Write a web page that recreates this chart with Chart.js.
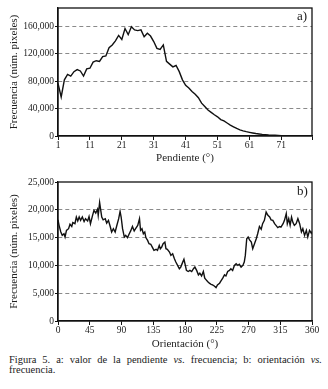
<!DOCTYPE html>
<html>
<head>
<meta charset="utf-8">
<script src="https://cdn.jsdelivr.net/npm/chart.js@4"></script>
<style>
    body { margin: 0; background: #fff; width: 328px; height: 389px; position: relative; overflow: hidden; font-family: 'Liberation Serif', serif; color: #1a1a1a; }
    .box { position: absolute; left: 0; width: 328px; }
    .tag { position: absolute; font-size: 13px; }
    #caption { position: absolute; left: 9px; top: 355px; width: 313px; font-size: 10.5px; line-height: 10px; text-align: justify; }
</style>
</head>
<body>
<div class="box" style="top:0;height:165px"><canvas id="slopeChart"></canvas></div>
<div class="box" style="top:170px;height:181px"><canvas id="aspectChart"></canvas></div>
<div class="tag" style="left:297px;top:8px">a)</div>
<div class="tag" style="left:297px;top:183px">b)</div>
<div id="caption">Figura 5. a: valor de la pendiente <i>vs.</i> frecuencia; b: orientación <i>vs.</i> frecuencia.</div>
<script>
// Pendiente (grados) vs. frecuencia
const slopeDegrees = [1,2,3,4,5,6,7,8,9,10,11,12,13,14,15,16,17,18,19,20,21,22,23,24,25,26,27,28,29,30,
    31,32,33,34,35,36,37,38,39,40,41,42,43,44,45,46,47,48,49,50,51,52,53,54,55,56,57,58,59,60,
    61,62,63,64,65,66,67,68,69,70,71,72,73,74,75,76,77,78,79,80];
const slopeFreq = [77000,57000,82000,90000,87500,94000,97000,95000,87500,98000,
    99000,108000,110000,109000,116000,117000,129000,133000,139000,147000,
    141000,157000,148000,159500,155000,154000,155000,145000,150000,146000,
    138000,128000,126500,133000,109000,105000,101000,103000,94000,82000,
    74000,70000,65000,61000,56000,48000,43000,38000,34500,31000,
    28000,24000,22000,19000,16000,13500,11000,9000,7500,6300,
    5300,4400,3600,3000,2400,2000,1500,1200,1000,800,
    600,500,400,300,250,200,150,100,100,50];
const slopeTicksX = [1,11,21,31,41,51,61,71];
const slopeTicksY = [0,40000,80000,120000,160000];

// Orientación (grados) vs. frecuencia
const aspectDegrees = [0,1.5,4,6,8.5,10,12,15,17,19.5,
    21,24,26,28,30,32,34.5,37,39,42,
    44,46,49,51,53.5,56,57,59,62,64,
    67,69,71.5,74,76,78.5,81,83,86,88,
    89.5,91.5,94,96,98.5,101,103,105.5,108,110,
    113,115.5,117,119,121,123,124.5,127,129,131.5,
    134,136,139,141,143.5,145,147,149,151.5,153,
    155,158,160,162.5,165,167,169.5,172,174,176.5,
    178.5,180.5,182,184.5,187,189.5,192,194,196.5,199,
    201,203.5,206,208,210,212,214.5,217,219,221.5,
    224,226,229,231,233.5,236,238,240.5,243,245,
    247.5,250,252.5,255,257,259.5,262,264,265.5,267.5,
    269.5,271.5,274,276,278.5,281,283,285.5,288,290,
    292.5,295,297.5,300,302,304.5,307,309,311.5,314,
    316,319,321,323.5,325,327,329,331,333,335,
    337.5,340,342.5,345,347,349.5,352,354,356.5,359,
    360];
const aspectFreq = [18200,17200,16000,15400,15700,15100,16300,16600,17400,17000,
    17700,17500,18700,18000,18700,18100,18700,17900,18400,18000,
    18800,17500,19000,19900,19400,20100,19000,21300,18700,18200,
    18400,17600,18100,17000,16000,16600,16000,17000,18400,19700,
    18700,16600,15100,15400,15000,15700,16200,17000,16200,16600,
    17200,18400,16300,16600,15700,16000,15000,14500,13900,13800,
    13200,12700,12900,12700,13600,13000,13300,13900,14200,13000,
    12900,12400,11800,12100,11200,10600,10000,9400,9700,10500,
    11100,10000,9100,8900,9100,8900,9400,9700,9100,8300,
    8600,8100,8900,7700,7400,7100,6800,6600,6500,6300,
    6000,6500,6800,7200,7700,8300,8100,8900,9100,9400,
    9100,10000,10300,10000,10200,9700,10000,10600,11800,14800,
    15100,14600,14200,13000,13900,14800,15700,17000,16500,17500,
    18100,19600,19000,18700,18200,18100,17500,17200,16800,17000,
    16900,17500,18100,19300,17500,18400,17200,18700,17700,17200,
    17500,18400,17500,16000,16600,15400,16300,15100,16300,15800,
    16100];
const aspectTicksX = [0,45,90,135,180,225,270,315,360];
const aspectTicksY = [0,5000,10000,15000,20000,25000];

const FONT = 'Liberation Serif';
const INK = '#111';

const frame = {
    id: 'frame',
    afterDatasetsDraw(chart) {
        const { ctx, chartArea: a } = chart;
        ctx.save();
        ctx.strokeStyle = INK;
        ctx.lineWidth = 1.3;
        ctx.strokeRect(a.left, a.top, a.right - a.left, a.bottom - a.top);
        ctx.restore();
    }
};

function makeChart(id, xs, ys, opts) {
    const points = xs.map((x, i) => ({ x: x, y: ys[i] }));
    return new Chart(document.getElementById(id), {
        type: 'line',
        data: {
            datasets: [{
                data: points,
                borderColor: INK,
                borderWidth: 1.4,
                pointRadius: 0,
                tension: 0,
                fill: false
            }]
        },
        options: {
            responsive: true,
            maintainAspectRatio: false,
            animation: false,
            layout: { padding: { top: opts.padTop, right: 16, left: 0, bottom: 0 } },
            plugins: { legend: { display: false }, tooltip: { enabled: false } },
            scales: {
                x: {
                    type: 'linear',
                    min: opts.xMin,
                    max: opts.xMax,
                    afterBuildTicks: s => { s.ticks = opts.xTicks.map(v => ({ value: v })); },
                    afterFit: s => { s.height = opts.xHeight; },
                    grid: { drawOnChartArea: false, drawTicks: true, tickLength: 4, tickColor: INK, lineWidth: 1 },
                    border: { color: INK, width: 1.3 },
                    ticks: {
                        padding: 0,
                        maxRotation: 0,
                        autoSkip: false,
                        color: '#222',
                        font: { family: FONT, size: 9.5 },
                        callback: v => (v === opts.xMax && opts.hideLast) ? '' : String(v)
                    },
                    title: {
                        display: true,
                        text: opts.xTitle,
                        color: '#222',
                        padding: { top: 0, bottom: 0 },
                        font: { family: FONT, size: 11 }
                    }
                },
                y: {
                    min: 0,
                    max: opts.yMax,
                    afterBuildTicks: s => { s.ticks = opts.yTicks.map(v => ({ value: v })); },
                    afterFit: s => { s.width = 58; },
                    grid: {
                        color: c => (c.tick && (c.tick.value === 0 || c.tick.value === opts.yMax)) ? 'rgba(0,0,0,0)' : '#8a8a8a',
                        lineWidth: 1,
                        tickLength: 3,
                        tickColor: INK,
                        tickBorderDash: []
                    },
                    border: { color: INK, width: 1.3, dash: [4, 3] },
                    ticks: {
                        padding: 1,
                        color: '#222',
                        font: { family: FONT, size: 9.5 },
                        callback: v => v.toLocaleString('en-US')
                    },
                    title: {
                        display: true,
                        text: 'Frecuencia (núm. pixeles)',
                        color: '#222',
                        padding: { top: 8, bottom: 0 },
                        font: { family: FONT, size: 11 }
                    }
                }
            }
        },
        plugins: [frame]
    });
}

makeChart('slopeChart', slopeDegrees, slopeFreq, {
    padTop: 8, xMin: 1, xMax: 80.6, xTicks: slopeTicksX.concat([80.6]), hideLast: true,
    xHeight: 29, xTitle: 'Pendiente (°)', yMax: 187000, yTicks: slopeTicksY
});

makeChart('aspectChart', aspectDegrees, aspectFreq, {
    padTop: 12, xMin: 0, xMax: 360, xTicks: aspectTicksX, hideLast: false,
    xHeight: 30, xTitle: 'Orientación (°)', yMax: 25000, yTicks: aspectTicksY
});
</script>
</body>
</html>
